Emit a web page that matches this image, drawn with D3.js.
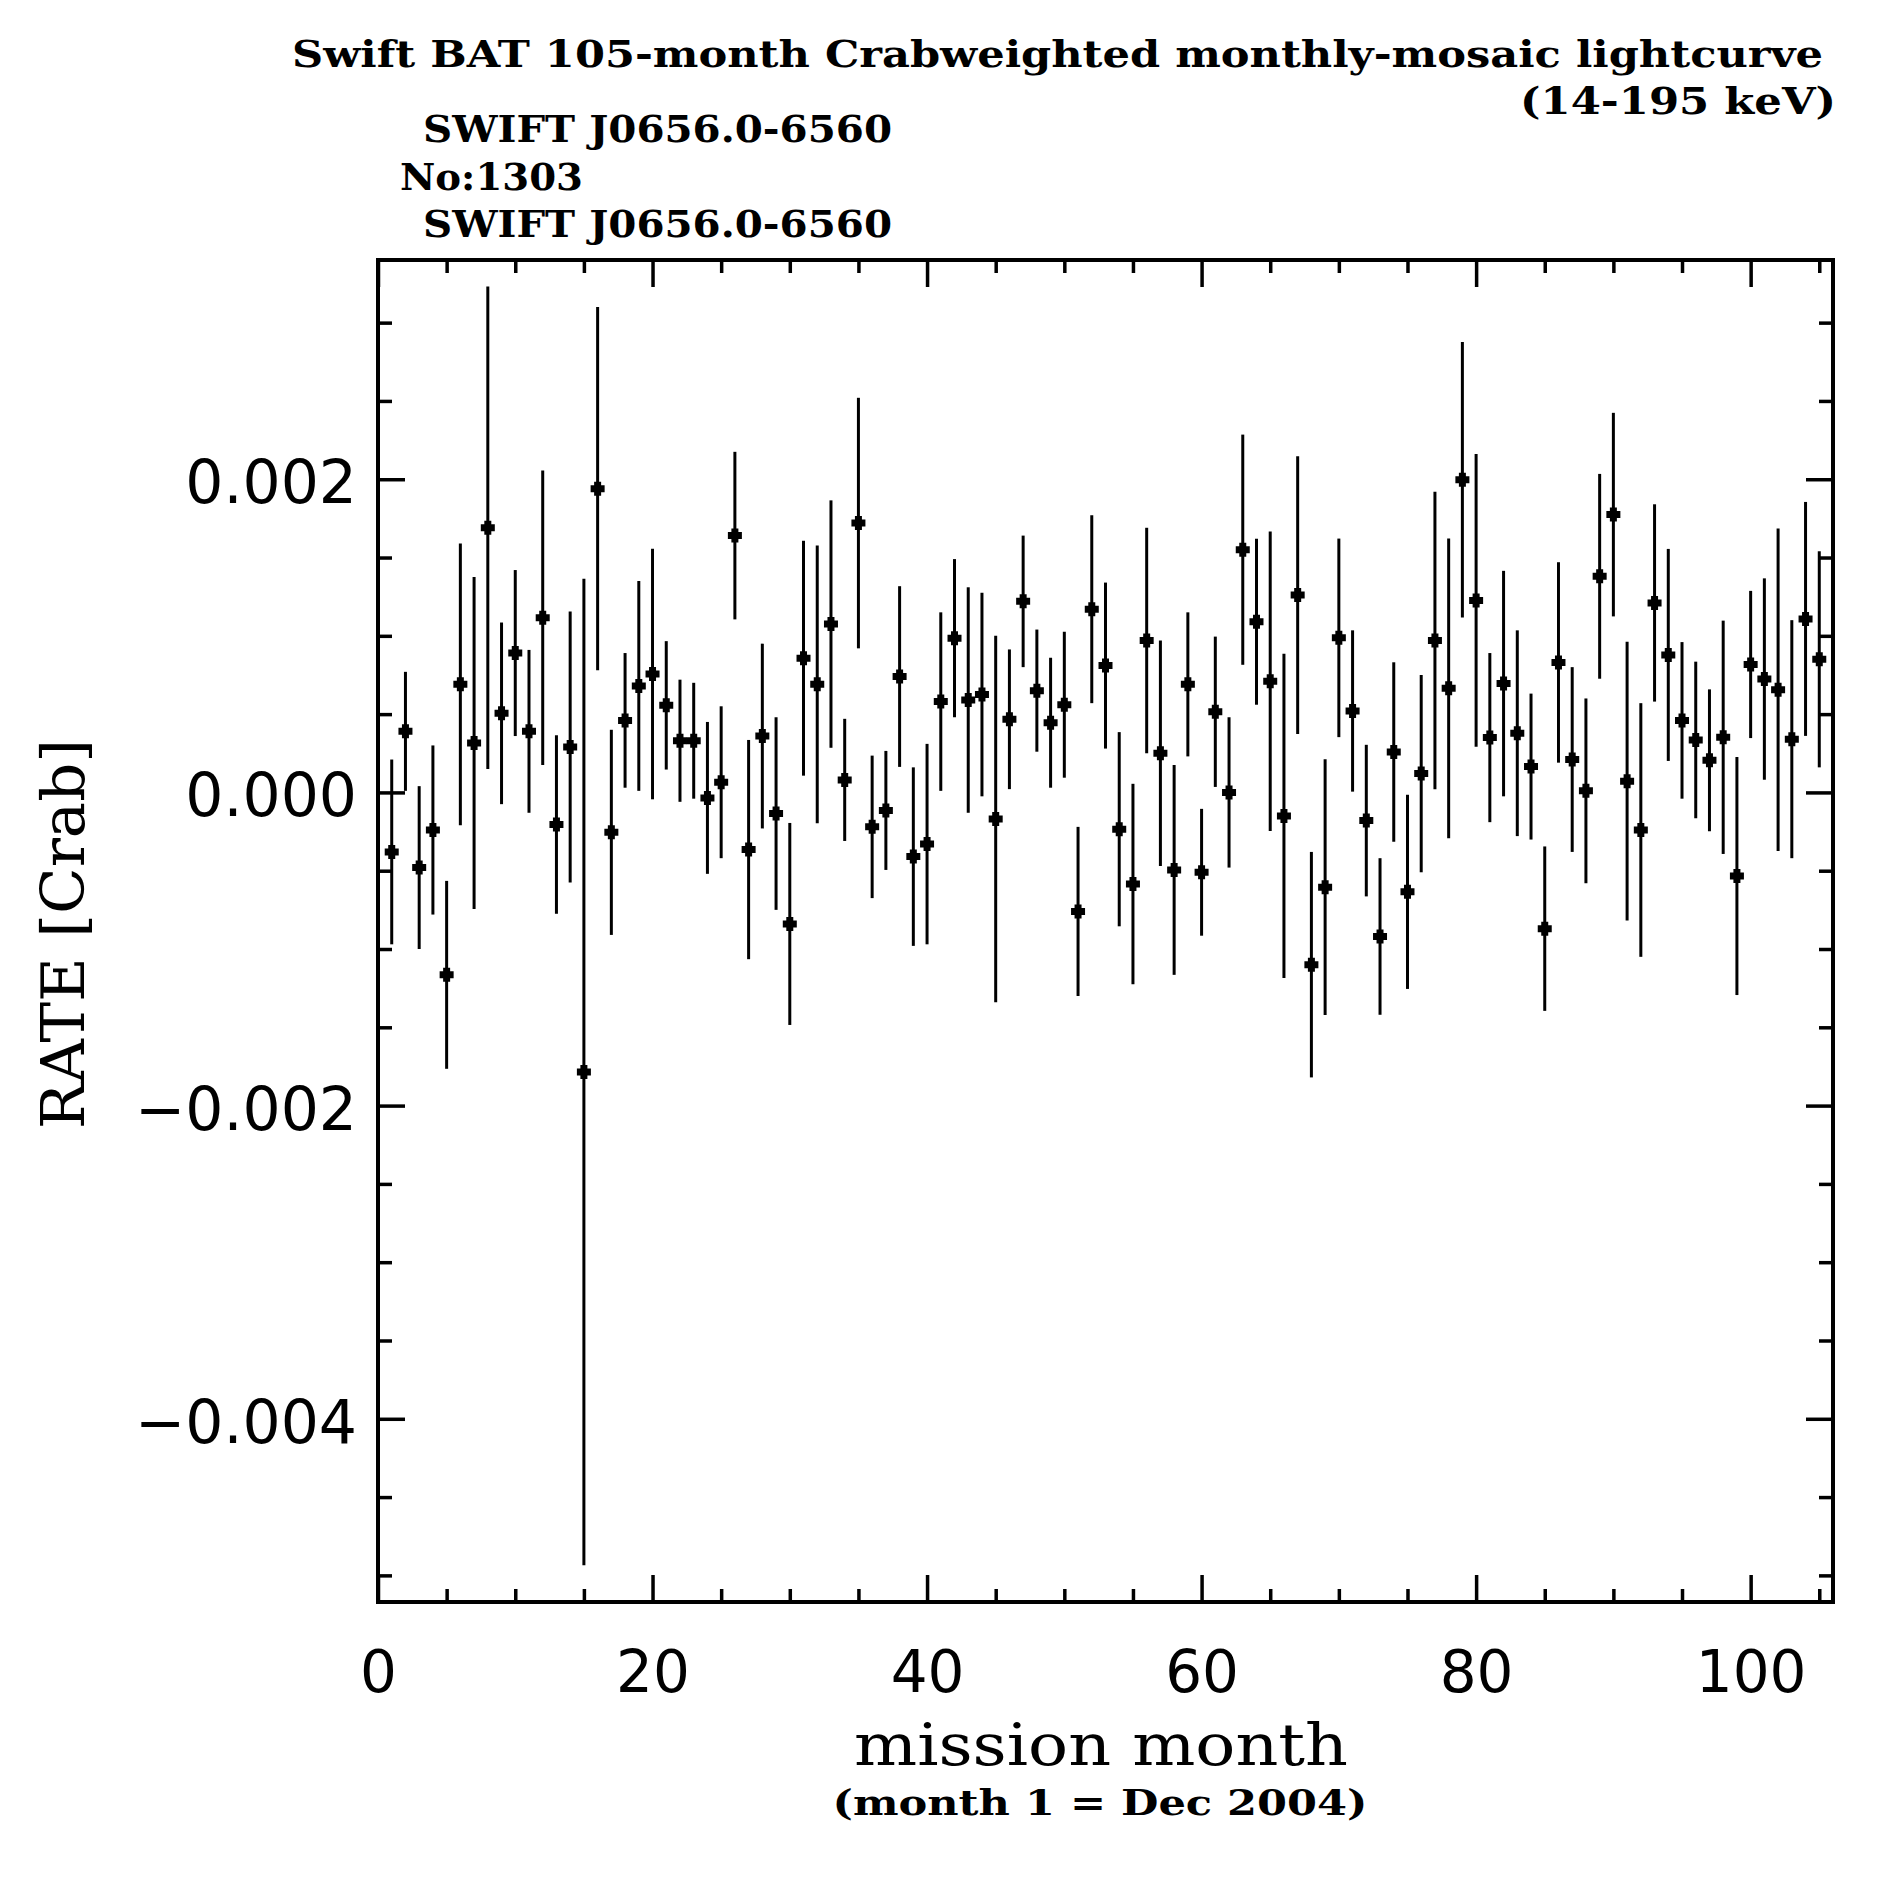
<!DOCTYPE html>
<html>
<head>
<meta charset="utf-8">
<script src="https://cdn.jsdelivr.net/npm/d3@7"></script>
<style>
  html, body { margin: 0; padding: 0; background: #ffffff; }
  svg { display: block; }
</style>
</head>
<body>
<svg id="chart" width="1887" height="1887"></svg>
<script>
// ---- data (rate in units of 1e-3 Crab, symmetric 1-sigma errors) ----
const months = d3.range(1, 106);
const rateMilliCrab = [
  -0.38, 0.39, -0.48, -0.24, -1.165, 0.69, 0.315, 1.69, 0.505, 0.89,
  0.39, 1.115, -0.205, 0.29, -1.785, 1.94, -0.255, 0.46, 0.68, 0.756,
  0.556, 0.33, 0.33, -0.035, 0.065, 1.64, -0.365, 0.36, -0.135, -0.84,
  0.857, 0.69, 1.075, 0.08, 1.72, -0.22, -0.115, 0.74, -0.41, -0.33,
  0.58, 0.985, 0.59, 0.625, -0.17, 0.467, 1.22, 0.65, 0.445, 0.56,
  -0.76, 1.17, 0.81, -0.235, -0.585, 0.97, 0.25, -0.495, 0.69, -0.51,
  0.515, 0.0, 1.55, 1.09, 0.71, -0.15, 1.26, -1.10, -0.605, 0.987,
  0.52, -0.18, -0.92, 0.258, -0.635, 0.12, 0.97, 0.665, 1.997, 1.226,
  0.35, 0.695, 0.378, 0.165, -0.87, 0.83, 0.21, 0.01, 1.38, 1.774,
  0.072, -0.24, 1.21, 0.878, 0.46, 0.335, 0.205, 0.352, -0.534, 0.817,
  0.724, 0.656, 0.34, 1.108, 0.85
];
const errMilliCrab = [
  0.59, 0.38, 0.52, 0.54, 0.60, 0.90, 1.06, 1.54, 0.58, 0.53,
  0.52, 0.94, 0.57, 0.865, 3.15, 1.16, 0.655, 0.43, 0.67, 0.80,
  0.41, 0.39, 0.37, 0.485, 0.485, 0.535, 0.70, 0.59, 0.615, 0.645,
  0.75, 0.887, 0.79, 0.39, 0.80, 0.455, 0.38, 0.577, 0.57, 0.64,
  0.57, 0.505, 0.72, 0.65, 1.17, 0.446, 0.42, 0.39, 0.415, 0.466,
  0.54, 0.60, 0.53, 0.62, 0.64, 0.72, 0.72, 0.67, 0.46, 0.405,
  0.48, 0.48, 0.735, 0.53, 0.957, 1.035, 0.887, 0.72, 0.817, 0.634,
  0.515, 0.484, 0.50, 0.573, 0.62, 0.63, 0.95, 0.957, 0.88, 0.935,
  0.54, 0.72, 0.657, 0.466, 0.525, 0.64, 0.59, 0.59, 0.654, 0.65,
  0.89, 0.81, 0.63, 0.677, 0.50, 0.50, 0.453, 0.745, 0.76, 0.47,
  0.643, 1.03, 0.76, 0.747, 0.69
];
const xTickMajor = [0, 20, 40, 60, 80, 100];
const xTickMinor = [5, 10, 15, 25, 30, 35, 45, 50, 55, 65, 70, 75, 85, 90, 95, 105];
const yTickMajor = [0.002, 0.000, -0.002, -0.004];
const yTickLabels = ["0.002", "0.000", "\u22120.002", "\u22120.004"];
const yTickMinor = [0.003, 0.0025, 0.0015, 0.001, 0.0005, -0.0005, -0.001, -0.0015,
                    -0.0025, -0.003, -0.0035, -0.0045, -0.005];
const titleLines = ["Swift BAT 105-month Crabweighted monthly-mosaic lightcurve", "(14-195 keV)"];
const sourceLines = ["SWIFT J0656.0-6560", "No:1303", "SWIFT J0656.0-6560"];
const xLabel = "mission month";
const xSubLabel = "(month 1 = Dec 2004)";
const yLabel = "RATE [Crab]";

const points = months.map((m, i) => ({
  m: m,
  v: rateMilliCrab[i] / 1000,
  e: errMilliCrab[i] / 1000
}));

// ---- layout ----
const L = 378, R = 1833, T = 260, B = 1602;
const svg = d3.select("#chart");

const x = d3.scaleLinear().domain([0, 106]).range([L, R]);
const y = d3.scaleLinear().domain([-0.00517, 0.0034]).range([B, T]);

const serif = "'DejaVu Serif', 'Liberation Serif', serif";
const sans = "'DejaVu Sans', 'Liberation Sans', sans-serif";

function styleAxis(g, width) {
  g.select(".domain").remove();
  g.selectAll(".tick line").attr("stroke", "#000").attr("stroke-width", width);
}

// Bottom axis (major with labels)
const gBottom = svg.append("g").attr("transform", `translate(0,${B})`)
  .call(d3.axisBottom(x).tickValues(xTickMajor).tickSize(-27).tickPadding(49)
        .tickFormat(d3.format("d")));
styleAxis(gBottom, 3.5);
gBottom.selectAll(".tick text").attr("font-family", sans).attr("font-size", 58)
  .attr("fill", "#000");
svg.append("g").attr("transform", `translate(0,${B})`)
  .call(d3.axisBottom(x).tickValues(xTickMinor).tickSize(-13).tickFormat(""))
  .call(g => styleAxis(g, 3.5));

// Top axis
svg.append("g").attr("transform", `translate(0,${T})`)
  .call(d3.axisTop(x).tickValues(xTickMajor).tickSize(-27).tickFormat(""))
  .call(g => styleAxis(g, 3.5));
svg.append("g").attr("transform", `translate(0,${T})`)
  .call(d3.axisTop(x).tickValues(xTickMinor).tickSize(-13).tickFormat(""))
  .call(g => styleAxis(g, 3.5));

// Left axis (major with labels)
const gLeft = svg.append("g").attr("transform", `translate(${L},0)`)
  .call(d3.axisLeft(y).tickValues(yTickMajor).tickSize(-27).tickPadding(21)
        .tickFormat((d, i) => yTickLabels[i]));
styleAxis(gLeft, 3.5);
gLeft.selectAll(".tick text").attr("font-family", sans).attr("font-size", 60)
  .attr("fill", "#000").attr("dy", "0.39em");
svg.append("g").attr("transform", `translate(${L},0)`)
  .call(d3.axisLeft(y).tickValues(yTickMinor).tickSize(-14).tickFormat(""))
  .call(g => styleAxis(g, 3.5));

// Right axis
svg.append("g").attr("transform", `translate(${R},0)`)
  .call(d3.axisRight(y).tickValues(yTickMajor).tickSize(-27).tickFormat(""))
  .call(g => styleAxis(g, 3.5));
svg.append("g").attr("transform", `translate(${R},0)`)
  .call(d3.axisRight(y).tickValues(yTickMinor).tickSize(-14).tickFormat(""))
  .call(g => styleAxis(g, 3.5));

// Frame
svg.append("rect").attr("x", L).attr("y", T).attr("width", R - L).attr("height", B - T)
  .attr("fill", "none").attr("stroke", "#000").attr("stroke-width", 4);

// Error bars
svg.append("g").selectAll("line").data(points).join("line")
  .attr("x1", d => x(d.m)).attr("x2", d => x(d.m))
  .attr("y1", d => y(d.v - d.e)).attr("y2", d => y(d.v + d.e))
  .attr("stroke", "#000").attr("stroke-width", 3);

// Markers: fat plus (filled) as a custom d3 symbol type
const fatPlus = {
  draw(ctx, size) {
    const a = Math.sqrt(size) / 2;   // half span
    const t = a * 0.5;               // half thickness
    ctx.moveTo(-a, -t);
    ctx.lineTo(-t, -t); ctx.lineTo(-t, -a); ctx.lineTo(t, -a); ctx.lineTo(t, -t);
    ctx.lineTo(a, -t); ctx.lineTo(a, t); ctx.lineTo(t, t); ctx.lineTo(t, a);
    ctx.lineTo(-t, a); ctx.lineTo(-t, t); ctx.lineTo(-a, t);
    ctx.closePath();
  }
};
const sym = d3.symbol().type(fatPlus).size(196);
svg.append("g").selectAll("path").data(points).join("path")
  .attr("d", sym)
  .attr("transform", d => `translate(${x(d.m)},${y(d.v)})`)
  .attr("fill", "#000");

// Titles
const tg = svg.append("g").attr("font-family", serif).attr("font-weight", "bold")
  .attr("font-size", 37).attr("fill", "#000");
tg.append("text").attr("x", 292).attr("y", 67).attr("textLength", 1531)
  .attr("lengthAdjust", "spacingAndGlyphs").text(titleLines[0]);
tg.append("text").attr("x", 1520).attr("y", 114).attr("textLength", 316)
  .attr("lengthAdjust", "spacingAndGlyphs").text(titleLines[1]);
tg.append("text").attr("x", 423).attr("y", 142).attr("textLength", 469)
  .attr("lengthAdjust", "spacingAndGlyphs").text(sourceLines[0]);
tg.append("text").attr("x", 400).attr("y", 190).attr("textLength", 183)
  .attr("lengthAdjust", "spacingAndGlyphs").text(sourceLines[1]);
tg.append("text").attr("x", 423).attr("y", 237).attr("textLength", 469)
  .attr("lengthAdjust", "spacingAndGlyphs").text(sourceLines[2]);

// Axis titles
svg.append("text").attr("x", 1101).attr("y", 1765).attr("text-anchor", "middle")
  .attr("font-family", serif).attr("font-size", 58).attr("fill", "#000")
  .attr("textLength", 494).attr("lengthAdjust", "spacingAndGlyphs").text(xLabel);
svg.append("text").attr("x", 1100).attr("y", 1815).attr("text-anchor", "middle")
  .attr("font-family", serif).attr("font-weight", "bold").attr("font-size", 36).attr("fill", "#000")
  .attr("textLength", 535).attr("lengthAdjust", "spacingAndGlyphs").text(xSubLabel);
svg.append("text").attr("transform", "translate(84,934) rotate(-90)").attr("text-anchor", "middle")
  .attr("font-family", serif).attr("font-size", 59).attr("fill", "#000")
  .attr("textLength", 390).attr("lengthAdjust", "spacingAndGlyphs").text(yLabel);
</script>
</body>
</html>
